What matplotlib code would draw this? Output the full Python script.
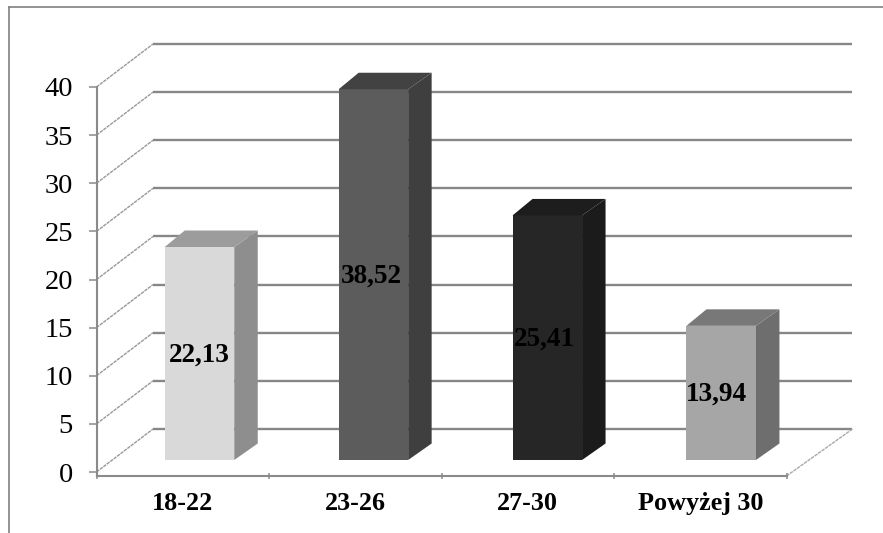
import matplotlib
matplotlib.use("Agg")
import matplotlib.pyplot as plt
from matplotlib.lines import Line2D
from matplotlib.patches import Polygon

plt.rcParams['font.family'] = ['Liberation Serif', 'DejaVu Serif']

# Survey shares by age group
categories = ["18-22", "23-26", "27-30", "Powyżej 30"]
values = [22.13, 38.52, 25.41, 13.94]
value_labels = ["22,13", "38,52", "25,41", "13,94"]
y_ticks = [0, 5, 10, 15, 20, 25, 30, 35, 40]

# Shades for each bar: front, side, top
front_colors = ["#d9d9d9", "#5c5c5c", "#262626", "#a6a6a6"]
side_colors = ["#8e8e8e", "#3f3f3f", "#1b1b1b", "#6e6e6e"]
top_colors = ["#9c9c9c", "#424242", "#1d1d1d", "#787878"]

W, H = 883, 533
fig = plt.figure(figsize=(W / 100, H / 100), dpi=100, facecolor="white")

# The axes rectangle is the front plane of the 3-D box
LEFT, RIGHT, TOP, BOTTOM = 96.5, 786.5, 87.0, 476.0
ax = fig.add_axes([LEFT / W, 1 - BOTTOM / H, (RIGHT - LEFT) / W, (BOTTOM - TOP) / H])
PX_X = (RIGHT - LEFT) / len(categories)
PX_Y = 9.625
ax.set_xlim(0, len(categories))
ax.set_ylim(-(BOTTOM - TOP - 40 * PX_Y) / PX_Y, 40)
ax.patch.set_alpha(0)

AXIS = "#8a8a8a"
for name in ("top", "right"):
    ax.spines[name].set_visible(False)
for name in ("left", "bottom"):
    ax.spines[name].set_color(AXIS)
    ax.spines[name].set_linewidth(1.5)

ax.set_yticks(y_ticks)
ax.set_yticklabels([str(t) for t in y_ticks], fontsize=20.5)
ax.tick_params(axis="y", length=6, width=1.1, color=AXIS, pad=11)
ax.set_xticks(range(len(categories) + 1))
ax.set_xticklabels([])
ax.tick_params(axis="x", which="major", length=5, width=1.1, color=AXIS, direction="inout")
ax.set_xticks([i + 0.5 for i in range(len(categories))], minor=True)
ax.set_xticklabels(categories, minor=True, fontsize=18.8, fontweight="bold")
ax.tick_params(axis="x", which="minor", length=0, pad=11.5)

# Back wall and floor, offset from the front plane by the box depth
DEPTH_X = 56.5 / PX_X
DEPTH_Y = 43.0 / PX_Y
WALL_RIGHT = len(categories) + 66.0 / PX_X
for t in y_ticks:
    ax.plot([0, DEPTH_X], [t, t + DEPTH_Y], color="#989898", lw=1.0, ls=(0, (2.5, 0.6)),
            clip_on=False, zorder=1)
    ax.plot([DEPTH_X, WALL_RIGHT], [t + DEPTH_Y, t + DEPTH_Y], color="#878787", lw=1.7,
            clip_on=False, zorder=1, solid_capstyle="butt")
ax.plot([len(categories), WALL_RIGHT], [ax.get_ylim()[0], DEPTH_Y], color="#a8a8a8", lw=1.0,
        ls=(0, (2.5, 0.6)), clip_on=False, zorder=1)

# Bars stand a little way back on the floor
BAR_WIDTH = 69.5 / PX_X
BAR_STEP = 173.9 / PX_X
BAR_START = 199.5 / PX_X - LEFT / PX_X
BASE = 12.0 / PX_Y
BAR_DX = 23.5 / PX_X
BAR_DY = 16.5 / PX_Y
TOP_INSET = 20.0 / PX_X
LABEL_SHIFT = 16.5 / PX_X
LABEL_DROP = 1.2 / PX_Y

for i, v in enumerate(values):
    c = BAR_START + i * BAR_STEP
    x0, x1 = c - BAR_WIDTH / 2, c + BAR_WIDTH / 2
    y0, y1 = BASE, BASE + v
    ax.add_patch(Polygon([(x0, y0), (x1, y0), (x1, y1), (x0, y1)], closed=True,
                         facecolor=front_colors[i], edgecolor="none", zorder=3, clip_on=False))
    ax.add_patch(Polygon([(x1, y0), (x1 + BAR_DX, y0 + BAR_DY), (x1 + BAR_DX, y1 + BAR_DY), (x1, y1)],
                         closed=True, facecolor=side_colors[i], edgecolor="none", zorder=3, clip_on=False))
    ax.add_patch(Polygon([(x0, y1), (x0 + TOP_INSET, y1 + BAR_DY), (x1 + BAR_DX, y1 + BAR_DY), (x1, y1)],
                         closed=True, facecolor=top_colors[i], edgecolor="none", zorder=3, clip_on=False))
    ax.text(i + 0.5 + LABEL_SHIFT, BASE + v / 2 - LABEL_DROP, value_labels[i], ha="center", va="center",
            fontsize=19.6, fontweight="bold", color="black", zorder=5)

# Picture border along the left and top edges
FRAME = "#808080"
fig.add_artist(Line2D([9 / W, 9 / W], [0, 1 - 6.5 / H], color=FRAME, lw=1.2))
fig.add_artist(Line2D([9 / W, 1], [1 - 6.5 / H, 1 - 6.5 / H], color=FRAME, lw=1.2))

fig.savefig("out.png", dpi=100, facecolor="white")
